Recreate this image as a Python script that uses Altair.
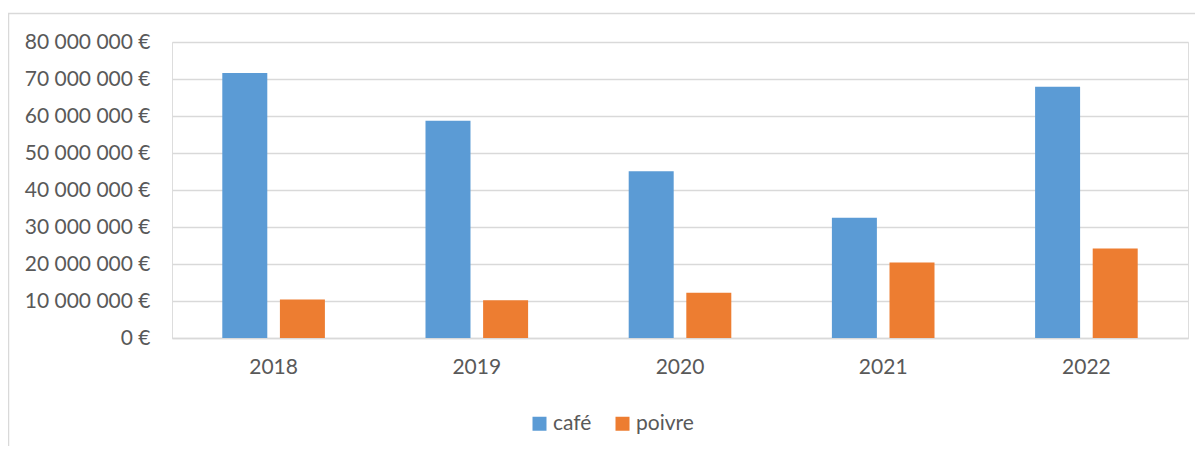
import altair as alt
import pandas as pd

years = ["2018", "2019", "2020", "2021", "2022"]
cafe = [71.6e6, 58.7e6, 45.1e6, 32.5e6, 67.9e6]
poivre = [10.4e6, 10.2e6, 12.2e6, 20.4e6, 24.2e6]
series = ["café", "poivre"]
colors = ["#5B9BD5", "#ED7D31"]
y_ticks = [0, 10e6, 20e6, 30e6, 40e6, 50e6, 60e6, 70e6, 80e6]

rows = []
for i, yr in enumerate(years):
    rows.append({"année": yr, "produit": "café", "valeur": cafe[i]})
    rows.append({"année": yr, "produit": "poivre", "valeur": poivre[i]})
df = pd.DataFrame(rows)

FONT = "Lato"
TXT = "#595959"
GRID = "#D9D9D9"

label_expr = "replace(replace(replace(format(datum.value, ',d'), ',', ' '), ',', ' '), ',', ' ') + ' €'"

bars = alt.Chart(df).mark_bar().encode(
    x=alt.X("année:N", sort=years, title=None,
            scale=alt.Scale(paddingInner=0, paddingOuter=0),
            axis=alt.Axis(labelAngle=0, ticks=False, domain=True, domainColor=GRID,
                          domainWidth=1.3,
                          labelFont=FONT, labelFontSize=21, labelColor=TXT,
                          labelPadding=18, grid=False)),
    xOffset=alt.XOffset("produit:N", sort=series,
                        scale=alt.Scale(paddingInner=0.219, paddingOuter=0.873)),
    y=alt.Y("valeur:Q", title=None,
            scale=alt.Scale(domain=[0, 80e6], nice=False),
            axis=alt.Axis(values=y_ticks, labelExpr=label_expr, ticks=False, domain=False,
                          grid=True, gridColor=GRID, gridWidth=1.3,
                          labelFont=FONT, labelFontSize=21, labelColor=TXT,
                          labelPadding=22)),
    color=alt.Color("produit:N", sort=series,
                    scale=alt.Scale(domain=series, range=colors),
                    legend=alt.Legend(title=None, orient="none", direction="horizontal",
                                      legendX=357, legendY=371,
                                      symbolType="square", symbolSize=196,
                                      symbolStrokeWidth=0, symbolOpacity=1,
                                      labelFont=FONT, labelFontSize=21, labelColor=TXT,
                                      labelOffset=3, columnPadding=20)),
)

frame = alt.Chart(alt.Data(values=[{}])).mark_rect(
    filled=False, stroke=GRID, strokeWidth=1.5
).encode(
    x=alt.value(-163.5), x2=alt.value(1200),
    y=alt.value(-28.5), y2=alt.value(500),
)

chart = alt.layer(frame, bars).properties(
    width=1016, height=296,
    autosize=alt.AutoSizeParams(type="none"),
    padding={"left": 164, "top": 34, "right": 7, "bottom": 108},
).configure_view(stroke=None).configure(background="white")

chart.save("out.html", embed_options={"renderer": "svg", "actions": False})
